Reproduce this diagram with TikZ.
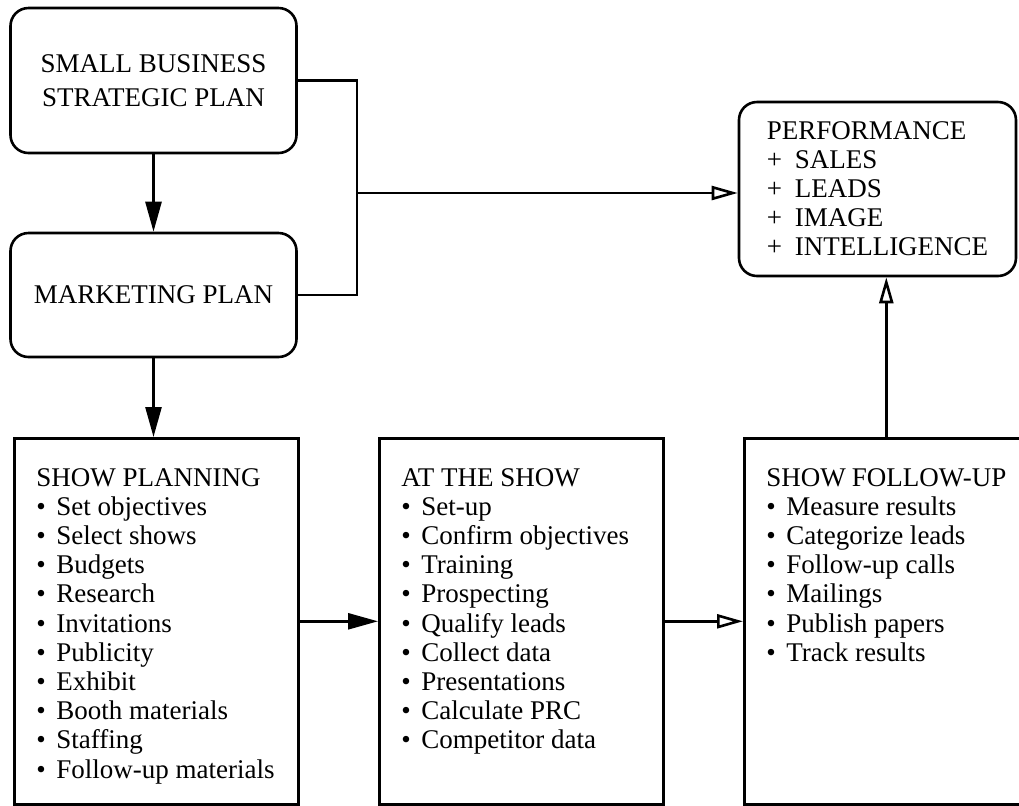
\documentclass[tikz,border=0pt]{standalone}
\usepackage{fontspec}
\setmainfont{Liberation Serif}
\usetikzlibrary{shapes,arrows,arrows.meta}

\newcommand{\bul}[1]{\\\mbox{\makebox[10pt][l]{\textbullet}#1}}
\newcommand{\pls}[1]{\\\mbox{\makebox[14pt][l]{+}#1}}

\begin{document}
\begin{tikzpicture}[x=0.5pt, y=-0.5pt, line width=1.3pt, >={Triangle[length=15pt,width=8pt]}]
    \tikzstyle{plan} = [rectangle, draw, rounded corners=9pt, align=center,
        minimum width=143pt, font=\fontsize{13.5}{17}\selectfont]
    \tikzstyle{stage} = [rectangle, draw, anchor=north west, inner xsep=11pt,
        inner ysep=15pt, font=\fontsize{13.5}{14.6}\selectfont]
    \tikzstyle{line} = [draw, ->]
    \tikzstyle{hollow} = [draw, -{Triangle[open,length=13pt,width=7pt]}]

    \useasboundingbox (0,0) rectangle (1019,805);

    \node [plan, minimum height=72.5pt] (strategic) at (153.5,80.5) {SMALL BUSINESS\\STRATEGIC PLAN};
    \node [plan, minimum height=62pt] (marketing) at (153.5,295) {MARKETING PLAN};
    \node [plan, minimum width=138.5pt, minimum height=87pt, align=left,
        font=\fontsize{13.5}{14.5}\selectfont] (performance) at (877.5,189)
        {PERFORMANCE\pls{SALES}\pls{LEADS}\pls{IMAGE}\pls{INTELLIGENCE}};

    \node [stage] (planning) at (13,437) {\parbox[t][153pt][t]{120pt}{SHOW PLANNING%
        \bul{Set objectives}\bul{Select shows}\bul{Budgets}\bul{Research}%
        \bul{Invitations}\bul{Publicity}\bul{Exhibit}\bul{Booth materials}%
        \bul{Staffing}\bul{Follow-up materials}}};
    \node [stage] (atshow) at (378,437) {\parbox[t][153pt][t]{120pt}{AT THE SHOW%
        \bul{Set-up}\bul{Confirm objectives}\bul{Training}\bul{Prospecting}%
        \bul{Qualify leads}\bul{Collect data}\bul{Presentations}%
        \bul{Calculate PRC}\bul{Competitor data}}};
    \node [stage] (followup) at (743,437) {\parbox[t][153pt][t]{120pt}{SHOW FOLLOW-UP%
        \bul{Measure results}\bul{Categorize leads}\bul{Follow-up calls}%
        \bul{Mailings}\bul{Publish papers}\bul{Track results}}};

    \coordinate (joint) at (357,193);

    \path [line] (strategic) -- (marketing);
    \path [line] (marketing.south) -- (marketing.south |- planning.north);
    \draw (strategic.east) -| (joint) |- (marketing.east);
    \path [hollow] (joint) -- (joint -| performance.west);
    \path [line] (planning) -- (atshow);
    \path [hollow] (atshow) -- (followup);
    \path [hollow] (followup.north) -- (followup.north |- performance.south);
\end{tikzpicture}
\end{document}
